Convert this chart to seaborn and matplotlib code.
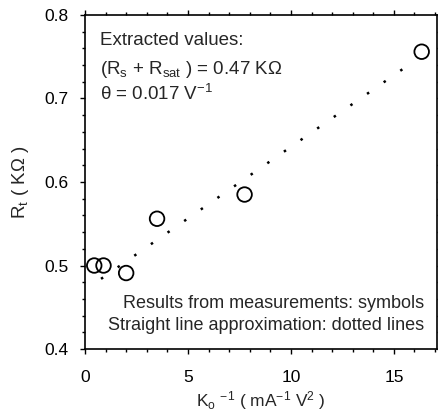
import numpy as np
import pandas as pd
import matplotlib
matplotlib.use("Agg")
import matplotlib.pyplot as plt
from matplotlib.ticker import MultipleLocator
import seaborn as sns

# measured points (symbols)
k_inv = [0.45, 0.9, 2.0, 3.5, 7.75, 16.35]
r_t = [0.500, 0.500, 0.491, 0.556, 0.585, 0.756]

# straight line approximation (dotted)
line_k = [0.78, 16.0]
line_r = [0.484, 0.745]

sns.set_style("ticks")
plt.rcParams['font.family'] = ['Liberation Sans', 'DejaVu Sans']
plt.rcParams['mathtext.fontset'] = 'custom'
plt.rcParams['mathtext.rm'] = 'Liberation Sans'
plt.rcParams['mathtext.it'] = 'Liberation Sans:italic'

fig = plt.figure(figsize=(4.38, 4.16), dpi=100)
ax = fig.add_axes([0.194, 0.161, 0.804, 0.803])

sns.lineplot(x=line_k, y=line_r, ax=ax, color='black', lw=1.8,
             linestyle=(0, (1, 7.1)))
sns.scatterplot(x=k_inv, y=r_t, ax=ax, marker='o', s=110,
                facecolor='none', edgecolor='black', linewidth=1.3)

ax.set_xlim(0, 17.1)
ax.set_ylim(0.4, 0.8)
ax.xaxis.set_major_locator(MultipleLocator(5))
ax.xaxis.set_minor_locator(MultipleLocator(1))
ax.yaxis.set_major_locator(MultipleLocator(0.1))
ax.yaxis.set_minor_locator(MultipleLocator(0.02))
ax.tick_params(which='both', direction='out', top=True, right=True,
               labelsize=12.5, color='black', labelcolor='black')
ax.tick_params(which='major', length=3.5, width=1)
ax.tick_params(which='minor', length=2.5, width=1)
ax.tick_params(axis='x', which='major', pad=11.5)
ax.tick_params(axis='y', which='major', pad=8)
for s in ax.spines.values():
    s.set_linewidth(1.2)
    s.set_color('black')

ax.set_xlabel(r"K$_\mathrm{o}$ $^{-1}$ ( mA$^{-1}$ V$^2$ )", fontsize=12.5, labelpad=3)
ax.set_ylabel(r"R$_\mathrm{t}$ ( KΩ )", fontsize=13.5, labelpad=10)

ax.text(0.043, 0.925, "Extracted values:", transform=ax.transAxes,
        fontsize=13.5, va='center', ha='left')
ax.text(0.043, 0.838, r"(R$_\mathrm{s}$ + R$_\mathrm{sat}$ ) = 0.47 KΩ",
        transform=ax.transAxes, fontsize=13.5, va='center', ha='left')
ax.text(0.043, 0.765, r"θ = 0.017 V$^{-1}$", transform=ax.transAxes,
        fontsize=13.5, va='center', ha='left')

ax.text(0.963, 0.135, "Results from measurements: symbols",
        transform=ax.transAxes, fontsize=13, ha='right', va='center')
ax.text(0.963, 0.07, "Straight line approximation: dotted lines",
        transform=ax.transAxes, fontsize=13, ha='right', va='center')

fig.savefig("out.png", dpi=100)
